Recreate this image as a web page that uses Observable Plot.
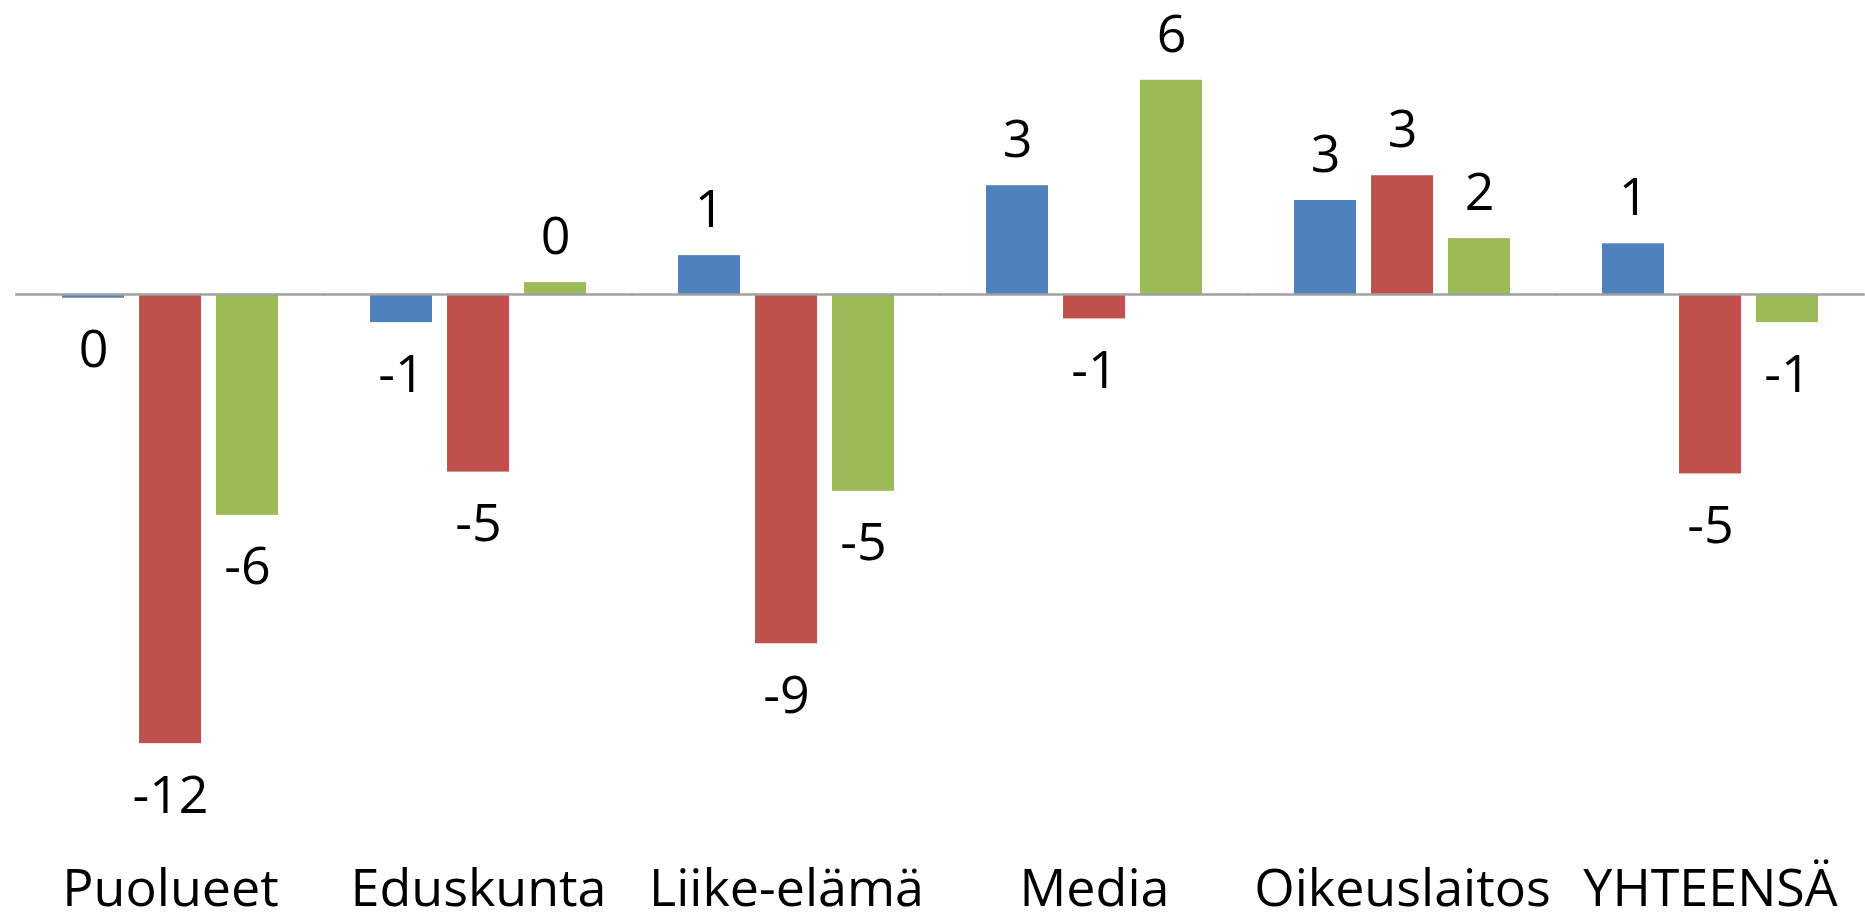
<!DOCTYPE html>
<html>
<head>
<meta charset="utf-8">
<script src="https://cdn.jsdelivr.net/npm/d3@7"></script>
<script src="https://cdn.jsdelivr.net/npm/@observablehq/plot@0.6"></script>
<style>
  html, body { margin: 0; padding: 0; background: #fff; overflow: hidden; }
  #chart svg { display: block; }
</style>
</head>
<body>
<div id="chart"></div>
<script>
const categories = ["Puolueet", "Eduskunta", "Liike-elämä", "Media", "Oikeuslaitos", "YHTEENSÄ"];
const seriesNames = ["Sarja 1", "Sarja 2", "Sarja 3"];
const seriesColors = ["#4F81BD", "#C0504D", "#9BBB59"];
const blueValues  = [-0.10, -0.76, 1.05, 2.94, 2.54, 1.37];
const redValues   = [-12.14, -4.80, -9.44, -0.66, 3.21, -4.85];
const greenValues = [-5.97, 0.32, -5.32, 5.79, 1.51, -0.76];

const seriesValues = [blueValues, redValues, greenValues];
const rows = [];
categories.forEach((c, i) => {
  seriesNames.forEach((s, j) => {
    rows.push({category: c, series: s, value: seriesValues[j][i]});
  });
});
const fmt = v => `${Math.round(v)}`;
const FONT = "Open Sans";
const FS = 52;
const W = 1865, H = 913, ML = 14, MR = 0;
const FX_PAD_INNER = 0.3, FX_PAD_OUTER = 0.15;
// half of the gap between category groups, so the zero line runs continuously
const fxStep = (W - ML - MR) / (categories.length - FX_PAD_INNER + 2 * FX_PAD_OUTER);
const halfGap = fxStep * FX_PAD_INNER / 2 + 0.5;

const chart = Plot.plot({
  width: W,
  height: H,
  marginLeft: ML,
  marginRight: MR,
  marginTop: 16.5,
  marginBottom: 156.5,
  style: {fontFamily: FONT, background: "#fff", color: "#000"},
  fx: {domain: categories, paddingInner: FX_PAD_INNER, paddingOuter: FX_PAD_OUTER, label: null},
  x: {domain: seriesNames, paddingInner: 0.2, paddingOuter: 0, axis: null},
  y: {domain: [-12.5, 7.5], axis: null},
  color: {domain: seriesNames, range: seriesColors},
  marks: [
    Plot.barY(rows, {fx: "category", x: "series", y: "value", fill: "series"}),
    Plot.text(rows.filter(d => d.value >= 0), {
      fx: "category", x: "series", y: "value", text: d => fmt(d.value),
      lineAnchor: "bottom", dy: -28.5, fontSize: FS, fill: "#000"
    }),
    Plot.text(rows.filter(d => d.value < 0), {
      fx: "category", x: "series", y: "value", text: d => fmt(d.value),
      lineAnchor: "top", dy: 32, fontSize: FS, fill: "#000"
    }),
    Plot.axisFx({anchor: "bottom", tickSize: 0, tickPadding: 112.5, fontSize: FS, label: null, fill: "#000"}),
    Plot.ruleY([0], {stroke: "#a0a0a0", strokeWidth: 2.5, insetLeft: -halfGap, insetRight: -halfGap})
  ]
});
document.getElementById("chart").appendChild(chart);
</script>
</body>
</html>
